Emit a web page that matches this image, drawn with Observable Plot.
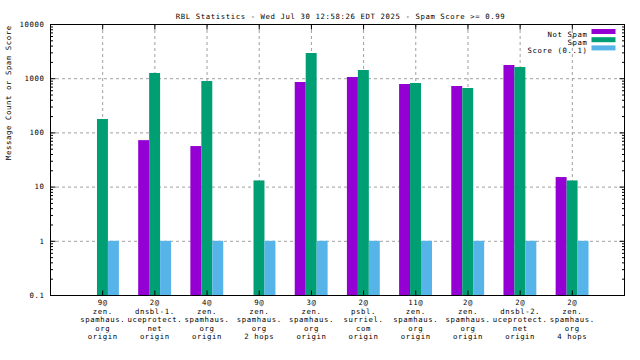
<!DOCTYPE html>
<html><head><meta charset="utf-8">
<script src="https://cdn.jsdelivr.net/npm/d3@7"></script>
<script src="https://cdn.jsdelivr.net/npm/@observablehq/plot@0.6"></script>
<style>body{margin:0;background:#fff}</style>
</head><body><div id="chart"></div>
<script>
const categories = [
  "9@\nzen.\nspamhaus.\norg\norigin",
  "2@\ndnsbl-1.\nuceprotect.\nnet\norigin",
  "4@\nzen.\nspamhaus.\norg\norigin",
  "9@\nzen.\nspamhaus.\norg\n2 hops",
  "3@\nzen.\nspamhaus.\norg\norigin",
  "2@\npsbl.\nsurriel.\ncom\norigin",
  "11@\nzen.\nspamhaus.\norg\norigin",
  "2@\nzen.\nspamhaus.\norg\norigin",
  "2@\ndnsbl-2.\nuceprotect.\nnet\norigin",
  "2@\nzen.\nspamhaus.\norg\n4 hops"
];
const notSpam = [0, 72, 56, 0, 851, 1052, 781, 718, 1753, 15];
const spam = [177, 1248, 887, 13, 2917, 1416, 815, 659, 1610, 13];
const score = [1, 1, 1, 1, 1, 1, 1, 1, 1, 1];
const yTicks = [0.1, 1, 10, 100, 1000, 10000];
const yTickLabels = ["0.1", "1", "10", "100", "1000", "10000"];
const yGrid = [1, 10, 100, 1000];
const seriesNames = ["Not Spam", "Spam", "Score (0..1)"];
const colors = ["#9400d3", "#009e73", "#56b4e9"];
const title = "RBL Statistics - Wed Jul 30 12:58:26 EDT 2025 - Spam Score >= 0.99";
const yLabel = "Message Count or Spam Score";

const series = [notSpam, spam, score];
const offsets = [-0.205, 0.005, 0.215];
const barW = 0.21;
const idx = categories.map((_, i) => i);
const minorTicks = [];
for (let e = -1; e < 4; e++) for (let m = 2; m < 10; m++) minorTicks.push(m * Math.pow(10, e));

const line = {draw(ctx, l) { ctx.moveTo(0, 0); ctx.lineTo(0, -l); }};
const tickOpts = {stroke: "black", strokeWidth: 1, strokeLinecap: "butt", shape: line, anchor: "start"};
const grid = {stroke: "#a0a0a0", strokeWidth: 1, strokeDasharray: "3,3"};

const marks = [
  Plot.ruleY(yGrid, {y: d => d, ...grid}),
  Plot.ruleX(idx, {x: d => d, ...grid}),
];
series.forEach((vals, s) => {
  const rows = vals.map((v, i) => ({i, v})).filter(d => d.v > 0);
  marks.push(Plot.rectY(rows, {
    x1: d => d.i + offsets[s] - barW / 2,
    x2: d => d.i + offsets[s] + barW / 2,
    y1: 0.1, y2: "v", fill: colors[s]
  }));
});
marks.push(
  Plot.vector(yTicks, {y: d => d, frameAnchor: "left", rotate: 90, length: 5, ...tickOpts}),
  Plot.vector(yTicks, {y: d => d, frameAnchor: "right", rotate: -90, length: 5, ...tickOpts}),
  Plot.vector(minorTicks, {y: d => d, frameAnchor: "left", rotate: 90, length: 2.5, ...tickOpts}),
  Plot.vector(minorTicks, {y: d => d, frameAnchor: "right", rotate: -90, length: 2.5, ...tickOpts}),
  Plot.vector(idx, {x: d => d, frameAnchor: "top", rotate: 180, length: 5, ...tickOpts}),
  Plot.vector(idx, {x: d => d, frameAnchor: "bottom", rotate: 0, length: 5, ...tickOpts}),
  Plot.frame({stroke: "black", strokeWidth: 1}),
  Plot.text(yTicks, {y: d => d, text: (d, i) => yTickLabels[i], frameAnchor: "left", textAnchor: "end", dx: -6, fill: "black"}),
  Plot.text(idx, {x: d => d, text: d => categories[d], frameAnchor: "bottom", lineAnchor: "top", dy: 3.5, lineHeight: 1.164, fill: "black"}),
  Plot.text([title], {text: d => d, frameAnchor: "top", dy: -11, dx: 3, fill: "black"}),
  Plot.text([yLabel], {text: d => d, frameAnchor: "left", rotate: -90, dx: -42, fill: "black"})
);
seriesNames.forEach((name, s) => {
  const dy = 7 + 8.2 * s;
  marks.push(
    Plot.text([name], {text: d => d, frameAnchor: "top-right", dx: -37, dy, textAnchor: "end", fill: "black"}),
    Plot.vector([0], {frameAnchor: "top-right", dx: -33, dy, rotate: 90, length: 24, stroke: colors[s], strokeWidth: 5, strokeLinecap: "butt", shape: line, anchor: "start"})
  );
});

const chart = Plot.plot({
  width: 640, height: 360,
  marginLeft: 50, marginRight: 16, marginTop: 24, marginBottom: 65,
  style: {fontFamily: "'DejaVu Sans Mono', monospace", fontSize: "7.3px", letterSpacing: "0.6px", background: "white", color: "black"},
  x: {domain: [-1, 10], axis: null},
  y: {type: "log", domain: [0.1, 10000], axis: null},
  marks
});
document.getElementById("chart").appendChild(chart);
</script>
</body></html>
